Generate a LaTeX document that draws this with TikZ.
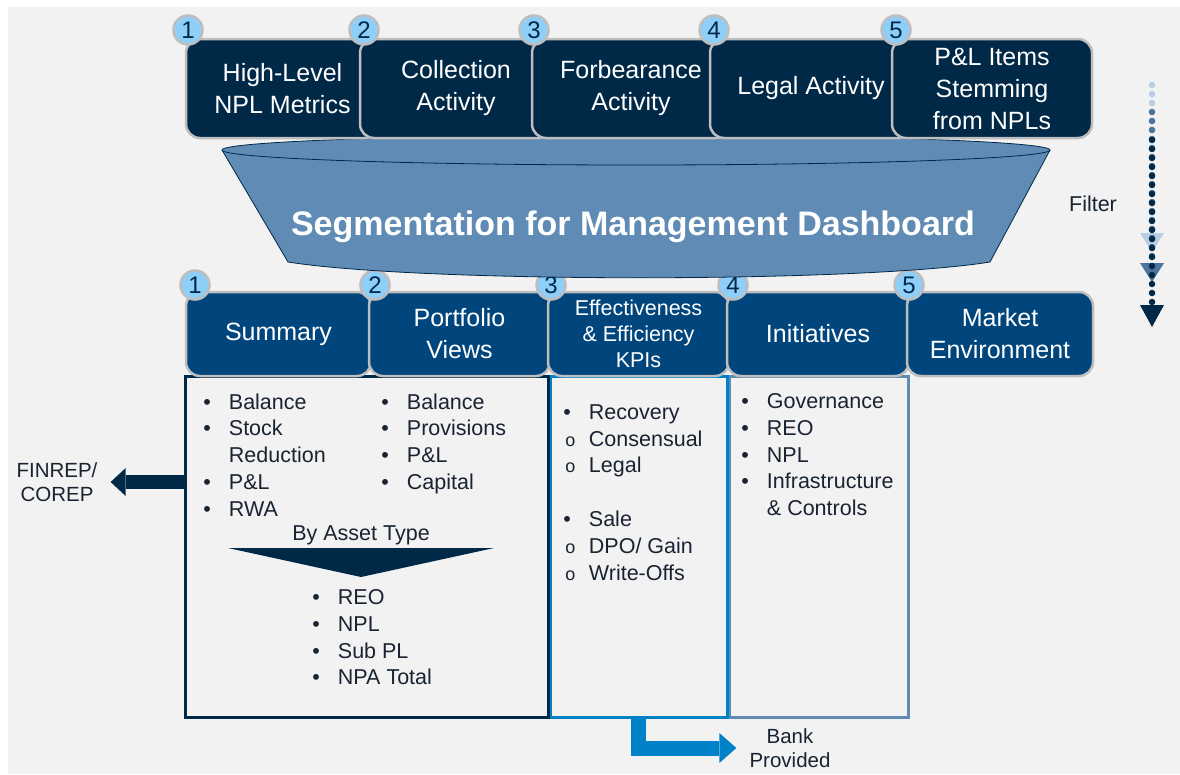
\documentclass[tikz,border=0pt]{standalone}
\usepackage{fontspec}
\setmainfont{Liberation Sans}
\usetikzlibrary{arrows.meta,positioning}

\definecolor{navy}{RGB}{0,41,72}
\definecolor{hdrblue}{RGB}{0,69,124}
\definecolor{circblue}{RGB}{142,207,250}
\definecolor{rimgray}{RGB}{190,190,190}
\definecolor{funnelblue}{RGB}{95,139,180}
\definecolor{kpiblue}{RGB}{0,130,200}
\definecolor{bggray}{RGB}{242,242,242}
\definecolor{inktext}{RGB}{25,35,50}
\definecolor{fadelight}{RGB}{185,205,228}
\definecolor{fademid}{RGB}{75,115,155}

\newcommand{\itm}[1]{\makebox[25.5pt][l]{\textbullet}#1}
\newcommand{\subitm}[1]{\makebox[25.5pt][l]{\hspace{2pt}{\fontsize{18}{18}\selectfont o}}#1}

\begin{document}
\begin{tikzpicture}[x=1pt,y=-1pt,
	topbox/.style={rectangle,draw=rimgray,line width=2.5pt,fill=navy,rounded corners=14pt,
		text=white,align=center,minimum height=99pt,inner sep=0pt,font=\fontsize{25}{32}\selectfont},
	hdrbox/.style={topbox,fill=hdrblue,minimum height=84pt},
	numdot/.style={circle,draw=rimgray,line width=2.5pt,fill=circblue,minimum size=29pt,
		inner sep=0pt,text=navy,font=\fontsize{24}{24}\selectfont},
	colbox/.style={rectangle,line width=3pt,inner sep=0pt,outer sep=0pt,minimum height=341pt},
	listtext/.style={anchor=north west,inner sep=0pt,align=left,text=inktext,
		font=\fontsize{21.5}{26.8}\selectfont},
	sidetext/.style={inner sep=0pt,align=center,text=inktext,font=\fontsize{20.5}{24}\selectfont},
	fatarrow/.style={draw=navy,line width=14pt,-{Triangle[width=28pt,length=15pt,line width=0pt]}},
	bankarrow/.style={draw=kpiblue,line width=15pt,line join=miter,
		-{Triangle[width=30pt,length=17pt,line width=0pt]}},
	filterdots/.style={line width=6.5pt,line cap=round,dash pattern=on 0pt off 9pt}
	]

	\useasboundingbox (0,0) rectangle (1180,774);
	\fill[white] (0,0) rectangle (1180,774);
	\fill[bggray] (8,7) rectangle (1180,774);

	% column bodies
	\node[colbox,draw=funnelblue,minimum width=179pt] (col4) at (818.5,546.5) {};
	\node[colbox,draw=kpiblue,minimum width=177pt] (col3) at (638.5,546.5) {};
	\node[colbox,draw=navy,minimum width=363pt] (col12) at (366.5,546.5) {};

	% outputs
	\node[sidetext] (finrep) at (57,482) {FINREP/\\COREP};
	\node[sidetext] (bank) at (790,748) {Bank\\Provided};
	\draw[fatarrow,shorten >=13pt] (col12.west |- finrep) -- (finrep);
	\draw[bankarrow,shorten >=13pt] (col3.south) |- (bank.west);

	% dashboard sections
	\node[hdrbox,minimum width=185pt] (h1) at (278.5,334) {Summary};
	\node[hdrbox,minimum width=181pt] (h2) at (459.5,334) {Portfolio\\Views};
	\node[hdrbox,minimum width=181pt,font=\fontsize{21.5}{26}\selectfont] (h3) at (638.5,334) {Effectiveness\\\& Efficiency\\KPIs};
	\node[hdrbox,minimum width=182pt] (h4) at (818,334) {Initiatives};
	\node[hdrbox,minimum width=186pt] (h5) at (1000,334) {Market\\Environment};

	\node[numdot] (b1) at (195,285) {1};
	\node[numdot] (b2) at (375,285) {2};
	\node[numdot] (b3) at (551,285) {3};
	\node[numdot] (b4) at (733,285) {4};
	\node[numdot] (b5) at (909,285) {5};

	% lists
	\node[listtext] (l1) at (203.25,393.3) {\itm{Balance}\\\itm{Stock}\\\hspace*{25.5pt}Reduction\\\itm{P\&L}\\\itm{RWA}};
	\node[listtext] (l2) at (381.25,393.3) {\itm{Balance}\\\itm{Provisions}\\\itm{P\&L}\\\itm{Capital}};
	\node[listtext] (l3) at (563.25,404.3) {\itm{Recovery}\\\subitm{Consensual}\\\subitm{Legal}\\\strut\\\itm{Sale}\\\subitm{DPO/ Gain}\\\subitm{Write-Offs}};
	\node[listtext] (l4) at (741.25,393.3) {\itm{Governance}\\\itm{REO}\\\itm{NPL}\\\itm{Infrastructure}\\\hspace*{25.5pt}\& Controls};

	\node[sidetext,font=\fontsize{21.5}{26.8}\selectfont] (bytype) at (361,535) {By Asset Type};
	\fill[navy] (228,548) -- (494,548) -- (361,577) -- cycle;
	\node[listtext] (l5) at (312.25,589.3) {\itm{REO}\\\itm{NPL}\\\itm{Sub PL}\\\itm{NPA Total}};

	% funnel
	\fill[funnelblue] (222,150) -- (288,262) .. controls (420,283) and (860,283) .. (990,262) -- (1050,150) -- cycle;
	\fill[funnelblue] (636,150) ellipse [x radius=414, y radius=15];
	\draw[navy,line width=0.8pt] (222,150) -- (288,262) .. controls (420,283) and (860,283) .. (990,262) -- (1050,150);
	\draw[navy,line width=0.8pt] (636,150) ellipse [x radius=414, y radius=15];
	\node[text=white,font=\bfseries\fontsize{34}{34}\selectfont] (title) at (633,227) {Segmentation for Management Dashboard};

	% report items
	\node[topbox,minimum width=193pt] (t1) at (282.5,88.5) {High-Level\\NPL Metrics};
	\node[topbox,minimum width=192pt] (t2) at (456,88.5) {Collection\\Activity};
	\node[topbox,minimum width=198pt] (t3) at (631,88.5) {Forbearance\\Activity};
	\node[topbox,minimum width=202pt] (t4) at (811,88.5) {Legal Activity};
	\node[topbox,minimum width=200pt] (t5) at (992,88.5) {P\&L Items\\Stemming\\from NPLs};

	\node[numdot] (n1) at (188,30) {1};
	\node[numdot] (n2) at (364,30) {2};
	\node[numdot] (n3) at (534,30) {3};
	\node[numdot] (n4) at (714,30) {4};
	\node[numdot] (n5) at (896,30) {5};

	% filter
	\node[sidetext,font=\fontsize{21.5}{26.8}\selectfont] (filter) at (1093,204) {Filter};
	\coordinate (fa0) at (1152,85);  \coordinate (fa1) at (1152,252);
	\coordinate (fb0) at (1152,112); \coordinate (fb1) at (1152,282);
	\coordinate (fc0) at (1152,140); \coordinate (fc1) at (1152,327);
	\draw[filterdots,fadelight,-{Triangle[width=24pt,length=19pt,line width=0pt]}] (fa0) -- (fa1);
	\draw[filterdots,fademid,-{Triangle[width=24pt,length=19pt,line width=0pt]}] (fb0) -- (fb1);
	\draw[filterdots,navy,-{Triangle[width=24pt,length=22pt,line width=0pt]}] (fc0) -- (fc1);

\end{tikzpicture}
\end{document}
